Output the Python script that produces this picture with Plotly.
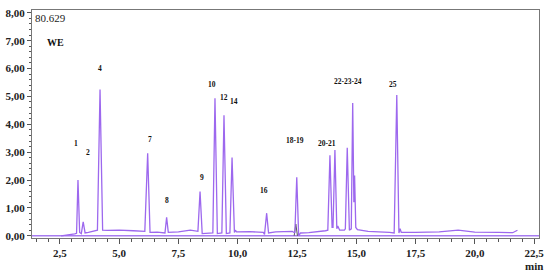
import plotly.graph_objects as go

# chromatogram (time in min, signal)
time_min = [2.55, 2.9, 3.12, 3.2, 3.26, 3.33, 3.4, 3.48, 3.56, 3.7, 3.95, 4.08, 4.19, 4.3,
            4.5, 5.0, 5.6, 6.08, 6.2, 6.3, 6.6, 6.93, 7.0, 7.07, 7.5, 8.0, 8.32, 8.41, 8.5,
            8.95, 9.04, 9.14, 9.33, 9.42, 9.52, 9.67, 9.76, 9.86, 9.9, 9.95, 10.5, 11.08, 11.13,
            11.22, 11.3, 11.6, 12.3, 12.41, 12.49, 12.57, 12.65, 13.0, 13.7, 13.8, 13.89, 13.98,
            14.02, 14.1, 14.18, 14.22, 14.3, 14.5, 14.54, 14.62, 14.71, 14.79, 14.85, 14.9,
            14.93, 14.98, 15.05, 15.5, 16.4, 16.6, 16.71, 16.8, 16.85, 16.9, 17.5, 18.5,
            19.3, 20.0, 21.0, 21.6, 21.8]
signal = [0.0, 0.03, 0.07, 0.09, 2.0, 0.12, 0.08, 0.5, 0.1, 0.12, 0.16, 0.2, 5.25, 0.2,
          0.19, 0.2, 0.18, 0.16, 2.96, 0.12, 0.13, 0.1, 0.66, 0.12, 0.14, 0.2, 0.16, 1.59, 0.08,
          0.1, 4.93, 0.08, 0.1, 4.32, 0.08, 0.1, 2.81, 0.12, 0.2, 0.14, 0.15, 0.12, 0.05,
          0.81, 0.1, 0.14, 0.16, 0.1, 2.1, 0.0, 0.1, 0.11, 0.18, 0.2, 2.89, 0.3,
          0.3, 3.08, 0.25, 0.35, 0.2, 0.2, 0.25, 3.16, 0.2, 0.25, 4.76, 1.2,
          2.16, 0.3, 0.22, 0.16, 0.12, 0.1, 5.05, 0.1, 0.25, 0.12, 0.12, 0.14,
          0.2, 0.13, 0.12, 0.11, 0.2]

# flat blank trace
blank_time = [1.32, 22.71]
blank_signal = [0.0, 0.0]

# small grey trace under peak 18-19
grey_time = [12.38, 12.45, 12.52]
grey_signal = [0.0, 0.42, 0.0]

# integration markers below the axis
marker_time = [4.05, 6.06, 8.9, 9.28, 14.65, 16.6]

peak_labels = ["1", "2", "4", "7", "8", "9", "10", "12", "14", "16", "18-19", "20-21", "22-23-24", "25"]
label_x = [3.18, 3.68, 4.2, 6.3, 7.0, 8.5, 8.9, 9.42, 9.85, 11.1, 12.4, 13.75, 14.65, 16.55]
label_y = [3.3, 3.0, 6.0, 3.44, 1.27, 2.09, 5.44, 4.97, 4.8, 1.61, 3.42, 3.32, 5.53, 5.41]

purple = "#9d68ee"

fig = go.Figure()
fig.add_trace(go.Scatter(x=blank_time, y=blank_signal, mode="lines",
                         line=dict(color="#a77cf0", width=1.5), showlegend=False))
fig.add_trace(go.Scatter(x=grey_time, y=grey_signal, mode="lines",
                         line=dict(color="#555555", width=1), showlegend=False))
fig.add_trace(go.Scatter(x=time_min, y=signal, mode="lines",
                         line=dict(color=purple, width=1.3), showlegend=False))
fig.add_trace(go.Scatter(x=marker_time, y=[-0.14] * len(marker_time), mode="markers",
                         marker=dict(symbol="line-ne", size=5, line=dict(color=purple, width=1)),
                         cliponaxis=False, showlegend=False))

for txt, xx, yy in zip(peak_labels, label_x, label_y):
    fig.add_annotation(x=xx, y=yy, text=txt, showarrow=False,
                       font=dict(family="Liberation Serif", size=7.5, color="#111111", weight="bold"))

fig.add_annotation(x=0, y=1, xref="paper", yref="paper", xanchor="left", yanchor="top",
                   xshift=1, text="80.629", showarrow=False,
                   font=dict(family="Liberation Serif", size=11, color="#222222"))
fig.add_annotation(x=2.3, y=6.95, text="WE", showarrow=False,
                   font=dict(family="Liberation Serif", size=10, color="#111111", weight="bold"))
fig.add_annotation(x=22.5, y=0, xref="x", yref="paper", yanchor="top", yshift=-20,
                   text="min", showarrow=False,
                   font=dict(family="Liberation Serif", size=11, color="#222222", weight="bold"))

fig.update_layout(
    width=550, height=275,
    margin=dict(l=32, r=11, t=10, b=37),
    plot_bgcolor="white", paper_bgcolor="white",
    separators=",.",
    xaxis=dict(range=[1.32, 22.71], tickvals=[2.5, 5, 7.5, 10, 12.5, 15, 17.5, 20, 22.5],
               tickformat=".1f", ticks="outside", ticklen=5, tickcolor="#555555",
               automargin=False,
               showgrid=False, zeroline=False, showline=True, linecolor="#777777", mirror=True,
               minor=dict(dtick=0.5, ticks="outside", ticklen=3, tickcolor="#555555", showgrid=False),
               tickfont=dict(family="Liberation Serif", size=11, color="#222222", weight="bold")),
    yaxis=dict(range=[-0.08, 8.1], dtick=1, tick0=0, tickformat=".2f", ticks="outside",
               ticklen=4, tickcolor="#555555", showgrid=False, zeroline=False,
               automargin=False,
               showline=True, linecolor="#777777", mirror=True,
               minor=dict(dtick=0.2, ticks="outside", ticklen=2, tickcolor="#555555", showgrid=False),
               tickfont=dict(family="Liberation Serif", size=11, color="#222222", weight="bold")),
)

# page body margin off so the figure sits at the window's top-left corner
fig.write_html("out.html", config={"displayModeBar": False},
               post_script="document.body.style.margin='0';")
